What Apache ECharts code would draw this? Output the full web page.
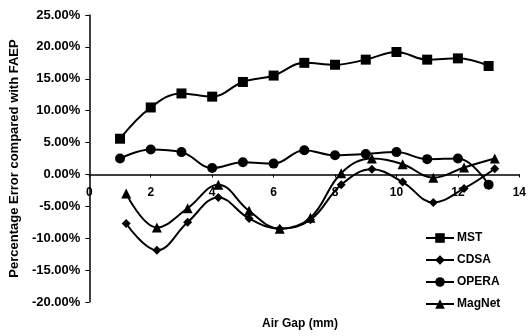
<!DOCTYPE html>
<html>
<head>
<meta charset="utf-8">
<script src="https://cdn.jsdelivr.net/npm/echarts@6/dist/echarts.min.js"></script>
<style>
  html, body { margin: 0; padding: 0; background: #fff; }
  #chart { width: 529px; height: 336px; }
</style>
</head>
<body>
<div id="chart"></div>
<script>
// Air gap positions (mm) for each data set
const gapMstOpera = [1, 2, 3, 4, 5, 6, 7, 8, 9, 10, 11, 12, 13];
const gapCdsaMagnet = [1.2, 2.2, 3.2, 4.2, 5.2, 6.2, 7.2, 8.2, 9.2, 10.2, 11.2, 12.2, 13.2];

// Percentage error compared with FAEP (%)
const mst    = [5.6, 10.5, 12.7, 12.2, 14.5, 15.5, 17.5, 17.2, 18.0, 19.2, 18.0, 18.2, 17.0];
const opera  = [2.5, 3.9, 3.5, 1.0, 1.9, 1.7, 3.8, 3.0, 3.2, 3.5, 2.4, 2.5, -1.6];
const cdsa   = [-7.7, -11.9, -7.5, -3.6, -6.9, -8.5, -7.1, -1.6, 0.8, -1.2, -4.4, -2.2, 0.9];
const magnet = [-3.0, -8.3, -5.3, -1.6, -5.7, -8.5, -6.8, 0.2, 2.5, 1.6, -0.5, 1.1, 2.5];

const seriesNames = ['MST', 'CDSA', 'OPERA', 'MagNet'];
const xTicks = { min: 0, max: 14, interval: 2 };
const yTicks = { min: -20, max: 25, interval: 5 };

const font = 'Liberation Sans, Arial, sans-serif';
const grid = { left: 89, right: 6, top: 15, bottom: 34 };
const plotHeight = 336 - grid.top - grid.bottom;
// lift the x axis (line, ticks and labels) up to the 0% level
const zeroOffset = -plotHeight * (0 - yTicks.min) / (yTicks.max - yTicks.min);

function pairs(xs, ys) {
  return xs.map((x, i) => [x, ys[i]]);
}

function makeSeries(name, xs, ys, symbol, size) {
  return {
    name: name,
    type: 'line',
    data: pairs(xs, ys),
    smooth: 0.4,
    symbol: symbol,
    symbolSize: size,
    itemStyle: { color: '#000' },
    lineStyle: { color: '#000', width: 2 },
    z: 3
  };
}

const chart = echarts.init(document.getElementById('chart'));
chart.setOption({
  animation: false,
  backgroundColor: '#fff',
  textStyle: { fontFamily: font },
  grid: grid,
  title: {
    text: 'Air Gap (mm)',
    left: 262,
    top: 318,
    padding: 0,
    textStyle: { fontFamily: font, fontSize: 12, fontWeight: 'bold', color: '#000' }
  },
  legend: {
    orient: 'vertical',
    left: 420,
    top: 227,
    itemGap: 10,
    itemWidth: 28,
    itemHeight: 12,
    data: seriesNames,
    textStyle: { fontFamily: font, fontSize: 12, fontWeight: 'bold', color: '#000', padding: [0, 0, 0, -2] }
  },
  xAxis: {
    type: 'value',
    position: 'bottom',
    offset: zeroOffset,
    min: xTicks.min,
    max: xTicks.max,
    interval: xTicks.interval,
    axisLine: { onZero: false, lineStyle: { color: '#000', width: 1.5 } },
    axisTick: { show: true, length: 3, lineStyle: { color: '#000' } },
    axisLabel: { color: '#000', fontSize: 12, fontWeight: 'bold', fontFamily: font, margin: 12 },
    splitLine: { show: false }
  },
  yAxis: {
    type: 'value',
    min: yTicks.min,
    max: yTicks.max,
    interval: yTicks.interval,
    name: 'Percentage Error compared with FAEP',
    nameLocation: 'middle',
    nameGap: 68,
    nameTextStyle: { color: '#000', fontSize: 13, fontWeight: 'bold', fontFamily: font },
    axisLine: { show: true, onZero: false, lineStyle: { color: '#000', width: 1.5 } },
    axisTick: { show: true, length: 4, lineStyle: { color: '#000' } },
    axisLabel: {
      color: '#000', fontSize: 13, fontWeight: 'bold', fontFamily: font, margin: 9,
      formatter: v => v.toFixed(2) + '%'
    },
    splitLine: { show: false }
  },
  series: [
    makeSeries('MST', gapMstOpera, mst, 'rect', 10),
    makeSeries('CDSA', gapCdsaMagnet, cdsa, 'diamond', 9),
    makeSeries('OPERA', gapMstOpera, opera, 'circle', 10),
    makeSeries('MagNet', gapCdsaMagnet, magnet, 'triangle', 10)
  ]
});
</script>
</body>
</html>
